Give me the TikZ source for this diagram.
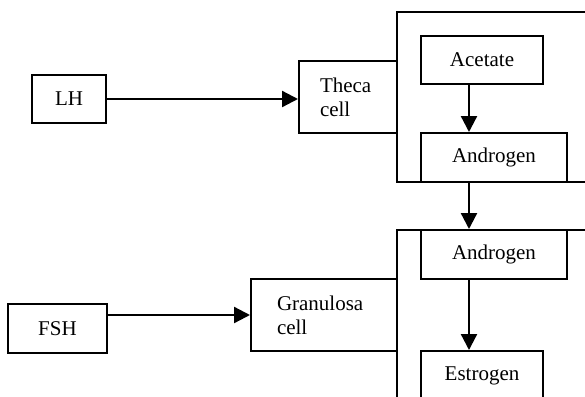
\documentclass[tikz,border=0pt]{standalone}
\usepackage{fontspec}
\setmainfont{Liberation Serif}
\usetikzlibrary{arrows.meta}

\tikzset{
  box/.style={draw, line width=2pt, inner sep=0pt, minimum height=48pt},
  cellbox/.style={box, align=left, text width=#1, minimum height=72pt},
  arr/.style={line width=2.3pt, -{Triangle[length=16pt,width=16pt]}}
}

\begin{document}
\begin{tikzpicture}[x=1pt,y=-1pt,font=\fontsize{21}{24}\selectfont]
  \useasboundingbox (0,0) rectangle (585,396);
  \clip (0,0) rectangle (585,396);

  % cell compartments, open to the right and bottom
  \draw[line width=2pt] (397,12) rectangle (620,182);
  \draw[line width=2pt] (397,230) rectangle (620,430);

  \node[box, minimum width=74pt] (lh) at (69,99) {LH};
  \node[box, minimum width=99pt, minimum height=49pt] (fsh) at (57.5,328.5) {FSH};

  \node[cellbox=56pt, inner xsep=21pt] (theca) at (348,97) {Theca\\cell};
  \node[cellbox=94pt, inner xsep=26pt] (gran) at (324,315) {Granulosa\\cell};

  \node[box, minimum width=122pt] (acet) at (482,60) {Acetate};
  \node[box, minimum width=146pt, minimum height=49pt] (andro1) at (494,157.5) {Androgen};
  \node[box, minimum width=146pt, minimum height=49pt] (andro2) at (494,254.5) {Androgen};
  \node[box, minimum width=122pt, minimum height=49pt] (estr) at (482,375.5) {Estrogen};

  \coordinate (axis) at (469,0);

  \draw[arr] (lh.east) -- (lh.east -| theca.west);
  \draw[arr] (fsh.east |- gran.west) -- (gran.west);
  \draw[arr] (acet.south -| axis) -- (andro1.north -| axis);
  \draw[arr] (andro1.south -| axis) -- (andro2.north -| axis);
  \draw[arr] (andro2.south -| axis) -- (estr.north -| axis);
\end{tikzpicture}
\end{document}
